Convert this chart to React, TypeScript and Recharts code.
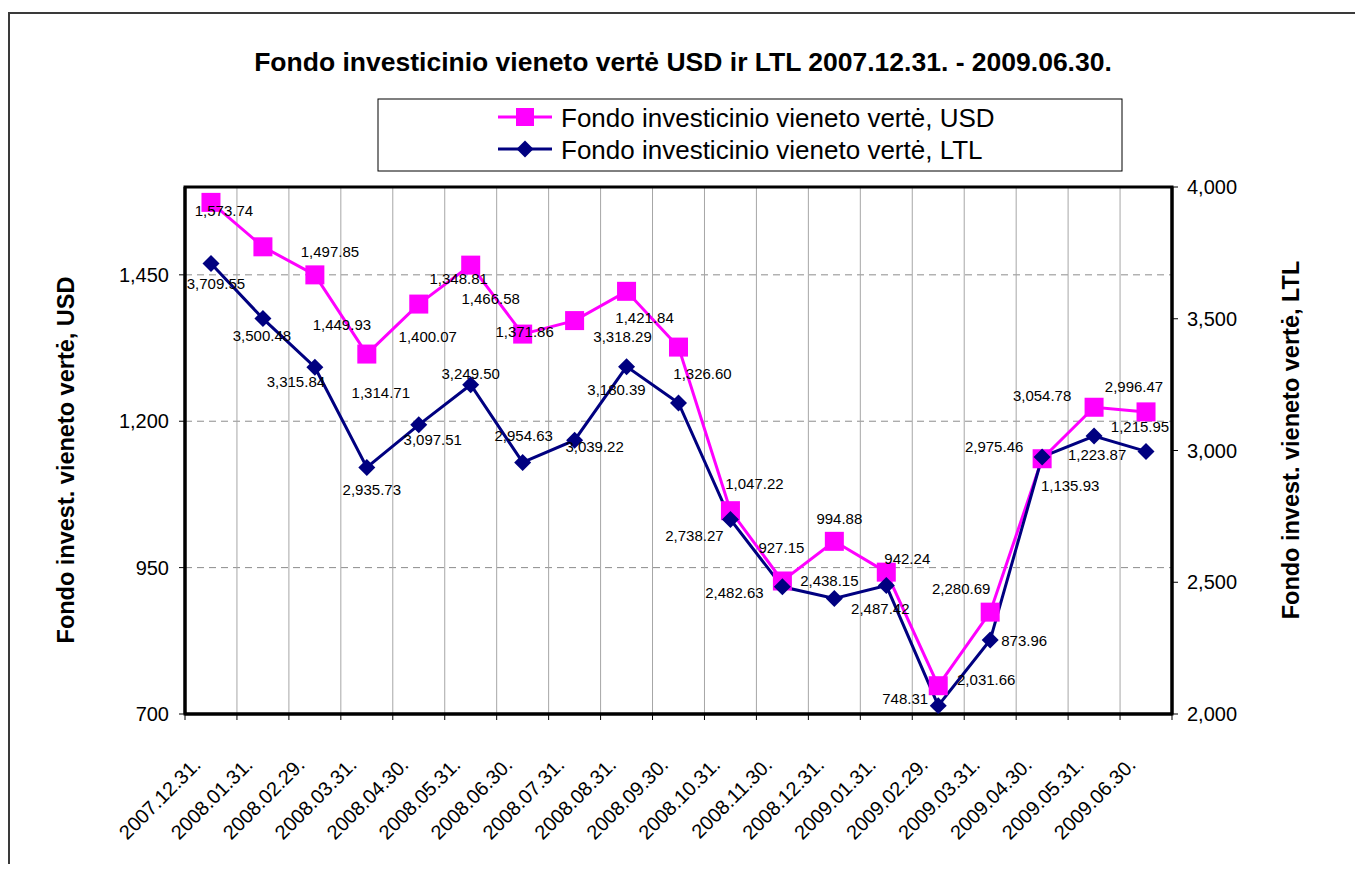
import React from 'react';
import { LineChart, Line, XAxis, YAxis, CartesianGrid, ReferenceArea, LabelList } from 'recharts';

// ---------- data ----------
const categories = [
  '2007.12.31.', '2008.01.31.', '2008.02.29.', '2008.03.31.', '2008.04.30.', '2008.05.31.',
  '2008.06.30.', '2008.07.31.', '2008.08.31.', '2008.09.30.', '2008.10.31.', '2008.11.30.',
  '2008.12.31.', '2009.01.31.', '2009.02.29.', '2009.03.31.', '2009.04.30.', '2009.05.31.', '2009.06.30.',
];
const usdValues = [
  1573.74, 1497.85, 1449.93, 1314.71, 1400.07, 1466.58, 1348.81, 1371.86, 1421.84, 1326.6,
  1047.22, 927.15, 994.88, 942.24, 748.31, 873.96, 1135.93, 1223.87, 1215.95,
];
const ltlValues = [
  3709.55, 3500.48, 3315.84, 2935.73, 3097.51, 3249.5, 2954.63, 3039.22, 3318.29, 3180.39,
  2738.27, 2482.63, 2438.15, 2487.42, 2031.66, 2280.69, 2975.46, 3054.78, 2996.47,
];
const usdTicks = [700, 950, 1200, 1450];
const ltlTicks = [2000, 2500, 3000, 3500, 4000];

const titleText = 'Fondo investicinio vieneto vertė USD ir LTL 2007.12.31. - 2009.06.30.';
const usdName = 'Fondo investicinio vieneto vertė, USD';
const ltlName = 'Fondo investicinio vieneto vertė, LTL';
const usdAxisTitle = 'Fondo invest. vieneto vertė, USD';
const ltlAxisTitle = 'Fondo invest. vieneto vertė, LTL';

// label nudges (relative to each point, as placed in the original)
const usdLabelNudge: [number, number][] = [
  [13, 8], [67, 5], [27, 50], [14, 38], [9, 32], [20, 33], [-64, -56], [-50, 11], [18, 26], [24, 26],
  [24, -27], [-1, -33], [5, -23], [21, -14], [-33, 13], [34, 28], [28, 27], [3, 47], [-6, 15],
];
const ltlLabelNudge: [number, number][] = [
  [5, 20], [-1, 17], [-19, 14], [5, 22], [14, 15], [0, -11], [1, -27], [20, 6], [-4, -30], [-62, -13],
  [-36, 16], [-48, 6], [-5, -18], [-6, 23], [48, -26], [-29, -52], [-48, -10], [-52, -41], [-12, -65],
];

const tableData = categories.map((date, i) => ({ date, usd: usdValues[i], ltl: ltlValues[i] }));

// ---------- layout ----------
const W = 1355;
const H = 856;
const PLOT = { left: 177, top: 179, right: 1164, bottom: 706 };
const PLOT_W = PLOT.right - PLOT.left;
const BAND = PLOT_W / categories.length;
const LEFT_AXIS_W = 80;
const RIGHT_AXIS_W = 80;
const X_AXIS_H = 60;
const MARGIN = {
  top: PLOT.top,
  left: PLOT.left - LEFT_AXIS_W,
  right: W - PLOT.right - RIGHT_AXIS_W,
  bottom: H - PLOT.bottom - X_AXIS_H,
};
const FONT = '"Liberation Sans", Arial, sans-serif';
const USD_COLOR = '#FF00FF';
const LTL_COLOR = '#000080';

const verticalPoints = categories.slice(1).map((_, i) => PLOT.left + (i + 1) * BAND);

const fmt2 = (v: number) =>
  v.toLocaleString('en-US', { minimumFractionDigits: 2, maximumFractionDigits: 2 });
const fmt0 = (v: number) => v.toLocaleString('en-US');

const SquareDot = (props: any) => {
  const { cx, cy, index } = props;
  if (cx == null || cy == null) return <g key={`sq${index}`} />;
  return <rect key={`sq${index}`} x={cx - 9.5} y={cy - 9.5} width={19} height={19} fill={USD_COLOR} />;
};
const DiamondDot = (props: any) => {
  const { cx, cy, index } = props;
  if (cx == null || cy == null) return <g key={`dm${index}`} />;
  const r = 8.5;
  return (
    <polygon
      key={`dm${index}`}
      points={`${cx},${cy - r} ${cx + r},${cy} ${cx},${cy + r} ${cx - r},${cy}`}
      fill={LTL_COLOR}
    />
  );
};

const makeLabel = (nudges: [number, number][]) => (props: any) => {
  const { index, value } = props;
  const x = props.x ?? props.viewBox?.x;
  const y = props.y ?? props.viewBox?.y;
  if (x == null || y == null || index == null) return null;
  const [dx, dy] = nudges[index] || [0, 0];
  return (
    <text
      x={x + dx}
      y={y + dy}
      textAnchor="middle"
      dominantBaseline="central"
      fontSize={15}
      fontFamily={FONT}
      fill="#000"
    >
      {fmt2(Number(value))}
    </text>
  );
};

const XTick = (props: any) => {
  const { x, y, payload, index } = props;
  const left = x - BAND / 2;
  const right = x + BAND / 2;
  return (
    <g>
      <line x1={left} y1={y} x2={left} y2={y + 6} stroke="#000" strokeWidth={1} />
      {index === categories.length - 1 && (
        <line x1={right} y1={y} x2={right} y2={y + 6} stroke="#000" strokeWidth={1} />
      )}
      <text
        x={0}
        y={0}
        transform={`translate(${x - 9},${y + 52}) rotate(-45)`}
        textAnchor="end"
        fontSize={20}
        fontFamily={FONT}
        fill="#000"
      >
        {payload.value}
      </text>
    </g>
  );
};

export default function App() {
  return (
    <div style={{ position: 'relative', width: W, height: H, overflow: 'hidden', fontFamily: FONT, background: '#fff' }}>
      <div
        style={{
          position: 'absolute',
          left: 0,
          top: 4,
          width: W + 50,
          height: H + 50,
          borderTop: '2px solid #3a3a3a',
          borderLeft: '2px solid #3a3a3a',
          boxSizing: 'border-box',
        }}
      />
      <div style={{ position: 'absolute', left: 0, top: 0 }}>
        <LineChart width={W} height={H} data={tableData} margin={MARGIN}>
          <CartesianGrid
            yAxisId="usd"
            vertical={false}
            stroke="#8c8c8c"
            strokeDasharray="7 5"
            fill="none"
          />
          <CartesianGrid
            yAxisId="usd"
            horizontal={false}
            verticalPoints={verticalPoints}
            stroke="#a6a6a6"
            fill="none"
          />
          <XAxis
            dataKey="date"
            scale="band"
            interval={0}
            height={X_AXIS_H}
            tickLine={false}
            tickSize={0}
            tickMargin={0}
            axisLine={{ stroke: '#000', strokeWidth: 3 }}
            tick={<XTick />}
          />
          <YAxis
            yAxisId="usd"
            orientation="left"
            width={LEFT_AXIS_W}
            domain={[700, 1600]}
            ticks={usdTicks}
            allowDataOverflow
            tickFormatter={fmt0}
            tick={{ fontSize: 20, fill: '#000', fontFamily: FONT }}
            tickLine={{ stroke: '#000' }}
            tickSize={6}
            tickMargin={10}
            axisLine={{ stroke: '#000', strokeWidth: 3 }}
          />
          <YAxis
            yAxisId="ltl"
            orientation="right"
            width={RIGHT_AXIS_W}
            domain={[2000, 4000]}
            ticks={ltlTicks}
            allowDataOverflow
            tickFormatter={fmt0}
            tick={{ fontSize: 20, fill: '#000', fontFamily: FONT }}
            tickLine={{ stroke: '#000' }}
            tickSize={6}
            tickMargin={9}
            axisLine={{ stroke: '#000', strokeWidth: 3 }}
          />
          <ReferenceArea
            yAxisId="usd"
            y1={700}
            y2={1600}
            fill="none"
            fillOpacity={0}
            stroke="#000"
            strokeWidth={3}
            ifOverflow="visible"
          />
          <Line
            yAxisId="usd"
            dataKey="usd"
            name={usdName}
            type="linear"
            stroke={USD_COLOR}
            strokeWidth={3}
            dot={SquareDot}
            activeDot={false}
            isAnimationActive={false}
          >
            <LabelList dataKey="usd" content={makeLabel(usdLabelNudge)} />
          </Line>
          <Line
            yAxisId="ltl"
            dataKey="ltl"
            name={ltlName}
            type="linear"
            stroke={LTL_COLOR}
            strokeWidth={3}
            dot={DiamondDot}
            activeDot={false}
            isAnimationActive={false}
          >
            <LabelList dataKey="ltl" content={makeLabel(ltlLabelNudge)} />
          </Line>
        </LineChart>
      </div>
      <svg
        width={W}
        height={H}
        style={{ position: 'absolute', left: 0, top: 0, pointerEvents: 'none' }}
      >
        <text x={675} y={63} textAnchor="middle" fontSize={26.5} fontWeight="bold" fontFamily={FONT} fill="#000">
          {titleText}
        </text>
        <rect x={370} y={91} width={744} height={72} fill="#fff" stroke="#000" strokeWidth={1} />
        <line x1={490} y1={109} x2={544} y2={109} stroke={USD_COLOR} strokeWidth={3} />
        <rect x={517 - 9} y={109 - 9} width={18} height={18} fill={USD_COLOR} />
        <text x={553} y={119} fontSize={26} fontFamily={FONT} fill="#000">
          {usdName}
        </text>
        <line x1={490} y1={141} x2={544} y2={141} stroke={LTL_COLOR} strokeWidth={3} />
        <polygon points="517,132.5 525.5,141 517,149.5 508.5,141" fill={LTL_COLOR} />
        <text x={553} y={151} fontSize={26} fontFamily={FONT} fill="#000">
          {ltlName}
        </text>
        <text
          transform="translate(58,452) rotate(-90)"
          textAnchor="middle"
          dominantBaseline="central"
          fontSize={23.5}
          fontWeight="bold"
          fontFamily={FONT}
          fill="#000"
        >
          {usdAxisTitle}
        </text>
        <text
          transform="translate(1283,432) rotate(-90)"
          textAnchor="middle"
          dominantBaseline="central"
          fontSize={23.5}
          fontWeight="bold"
          fontFamily={FONT}
          fill="#000"
        >
          {ltlAxisTitle}
        </text>
      </svg>
    </div>
  );
}
